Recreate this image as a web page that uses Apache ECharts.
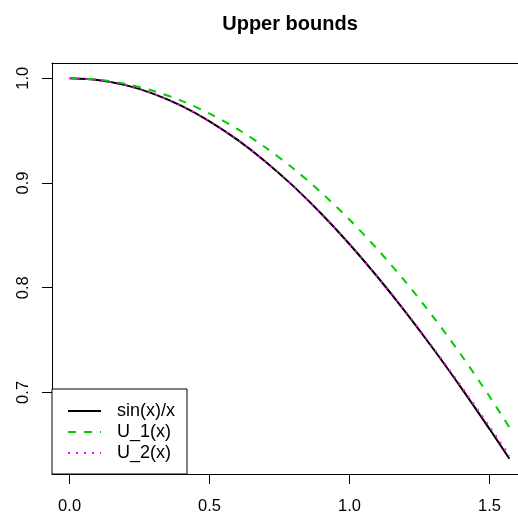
<!DOCTYPE html>
<html>
<head>
<meta charset="utf-8">
<script src="https://cdn.jsdelivr.net/npm/echarts@6/dist/echarts.min.js"></script>
<style>
  html, body { margin: 0; padding: 0; background: #fff; }
  #chart { width: 518px; height: 516px; }
</style>
</head>
<body>
<div id="chart"></div>
<script>
// values
var xValues = [0, 0.1, 0.2, 0.3, 0.4, 0.5, 0.6, 0.7, 0.8, 0.9, 1.0, 1.1, 1.2, 1.3, 1.4, 1.5, 1.5708];
var sincValues = [1, 0.99833, 0.99335, 0.98507, 0.97355, 0.95885, 0.94107, 0.92031, 0.8967, 0.87036,
  0.84147, 0.81019, 0.7767, 0.7412, 0.70389, 0.665, 0.63662];
var u1Values = [1, 0.99865, 0.9946, 0.98784, 0.97838, 0.96623, 0.95136, 0.9338, 0.91354, 0.89057,
  0.8649, 0.83653, 0.80546, 0.77168, 0.7352, 0.69603, 0.66666];
var u2Values = [1, 0.99833, 0.99335, 0.98507, 0.97355, 0.95885, 0.94108, 0.92033, 0.89675, 0.87047,
  0.84167, 0.81053, 0.77728, 0.74213, 0.70535, 0.66719, 0.6395];
var seriesNames = ["sin(x)/x", "U_1(x)", "U_2(x)"];
var xTicks = [0, 0.5, 1.0, 1.5];
var yTicks = [0.7, 0.8, 0.9, 1.0];

function pairs(ys) {
  return xValues.map(function (x, i) { return [x, ys[i]]; });
}

var font = "'Liberation Sans', Arial, Helvetica, sans-serif";
var chart = echarts.init(document.getElementById("chart"));

// plot box runs off the right edge of the picture, so only three sides show
var xMin = -0.0628, xMax = 1.6015;
var boxLine = { show: true, onZero: false, lineStyle: { color: "#000", width: 1 } };

var option = {
  animation: false,
  backgroundColor: "#fff",
  title: {
    text: "Upper bounds",
    left: 285,
    textAlign: "center",
    top: 9,
    textStyle: { fontFamily: font, fontSize: 20, fontWeight: "bold", color: "#000" }
  },
  grid: {
    left: 52,
    top: 63,
    right: 0,
    height: 411
  },
  legend: {
    orient: "vertical",
    left: 52,
    top: 389,
    padding: [13, 12, 12, 15],
    itemWidth: 33,
    itemHeight: 14,
    itemGap: 3,
    borderColor: "#000",
    borderWidth: 1,
    borderRadius: 0,
    backgroundColor: "#fff",
    itemStyle: { opacity: 0 },
    data: seriesNames,
    textStyle: { fontFamily: font, fontSize: 18, color: "#000", padding: [0, 0, 0, 11] }
  },
  xAxis: [
    {
      type: "value",
      min: xMin,
      max: xMax,
      axisLine: boxLine,
      splitLine: { show: false },
      axisTick: { show: true, length: 10, customValues: xTicks, lineStyle: { color: "#000" } },
      axisLabel: {
        customValues: xTicks,
        margin: 24,
        fontFamily: font,
        fontSize: 16.5,
        color: "#000",
        formatter: function (v) { return v.toFixed(1); }
      }
    },
    {
      type: "value",
      position: "top",
      min: xMin,
      max: xMax,
      axisLine: boxLine,
      splitLine: { show: false },
      axisTick: { show: false },
      axisLabel: { show: false }
    }
  ],
  yAxis: {
    type: "value",
    min: 0.6221,
    max: 1.0145,
    axisLine: boxLine,
    splitLine: { show: false },
    axisTick: { show: true, length: 10, customValues: yTicks, lineStyle: { color: "#000" } },
    axisLabel: {
      customValues: yTicks,
      rotate: 90,
      margin: 20.5,
      fontFamily: font,
      fontSize: 16.5,
      color: "#000",
      formatter: function (v) { return v.toFixed(1); }
    }
  },
  series: [
    {
      name: seriesNames[0],
      type: "line",
      data: pairs(sincValues),
      smooth: 0.3,
      symbol: "none",
      lineStyle: { color: "#000", width: 2 },
      itemStyle: { color: "#000" }
    },
    {
      name: seriesNames[1],
      type: "line",
      data: pairs(u1Values),
      smooth: 0.3,
      symbol: "none",
      lineStyle: { color: "#00CD00", width: 2, type: [8, 8] },
      itemStyle: { color: "#00CD00" }
    },
    {
      name: seriesNames[2],
      type: "line",
      data: pairs(u2Values),
      smooth: 0.3,
      symbol: "none",
      lineStyle: { color: "#FF00FF", width: 2, type: [2, 6] },
      itemStyle: { color: "#FF00FF" }
    }
  ]
};

chart.setOption(option);
</script>
</body>
</html>
